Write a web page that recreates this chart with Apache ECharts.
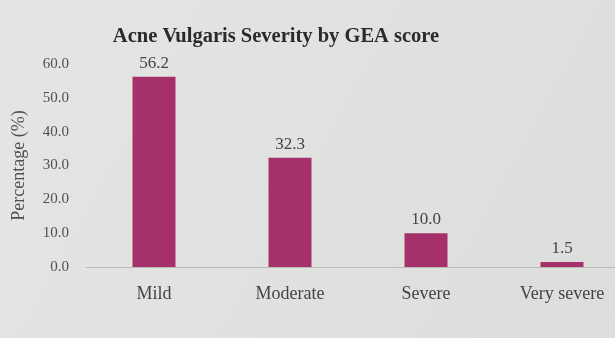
<!DOCTYPE html>
<html>
<head>
<meta charset="utf-8">
<script src="https://cdn.jsdelivr.net/npm/echarts@6/dist/echarts.min.js"></script>
<style>
  html, body { margin: 0; padding: 0; background: #e2e4e1; }
  #chart { width: 615px; height: 338px; }
</style>
</head>
<body>
<div id="chart"></div>
<script>
// Acne vulgaris severity distribution (GEA scale)
const categories = ['Mild', 'Moderate', 'Severe', 'Very severe'];
const percentages = [56.2, 32.3, 10.0, 1.5];
const yTicks = [0, 10, 20, 30, 40, 50, 60];

const serif = '"Liberation Serif", "DejaVu Serif", serif';
const chart = echarts.init(document.getElementById('chart'));
chart.setOption({
  backgroundColor: {
    type: 'linear', x: 0, y: 0, x2: 1, y2: 1,
    colorStops: [
      { offset: 0, color: '#e4e6e3' },
      { offset: 1, color: '#dcdedb' }
    ]
  },
  title: {
    text: 'Acne Vulgaris Severity by GEA score',
    left: 271, top: 21, textAlign: 'center',
    textStyle: { fontFamily: serif, fontWeight: 'bold', fontSize: 20.5, color: '#2a2a2a' }
  },
  // the plot area runs past the right edge of the canvas
  grid: { left: 86, width: 544, top: 64, bottom: 71, containLabel: false, outerBoundsMode: 'none' },
  xAxis: {
    type: 'category',
    data: categories,
    axisLine: { lineStyle: { color: '#b9bcb9', width: 1 } },
    axisTick: { show: false },
    axisLabel: { fontFamily: serif, fontSize: 18, color: '#444', margin: 18 }
  },
  yAxis: {
    type: 'value',
    min: yTicks[0], max: yTicks[yTicks.length - 1], interval: 10,
    name: 'Percentage (%)',
    nameLocation: 'middle', nameGap: 58, nameRotate: 90,
    nameTextStyle: { fontFamily: serif, fontSize: 18, color: '#505050' },
    axisLine: { show: false },
    axisTick: { show: false },
    splitLine: { show: false },
    axisLabel: {
      fontFamily: serif, fontSize: 15, color: '#505050', margin: 17,
      formatter: v => v.toFixed(1)
    }
  },
  series: [{
    type: 'bar',
    data: percentages,
    barWidth: 43,
    itemStyle: { color: '#a5306a' },
    label: {
      show: true, position: 'top', distance: 5,
      fontFamily: serif, fontSize: 17, color: '#444',
      formatter: p => p.value.toFixed(1)
    }
  }]
});
</script>
</body>
</html>
